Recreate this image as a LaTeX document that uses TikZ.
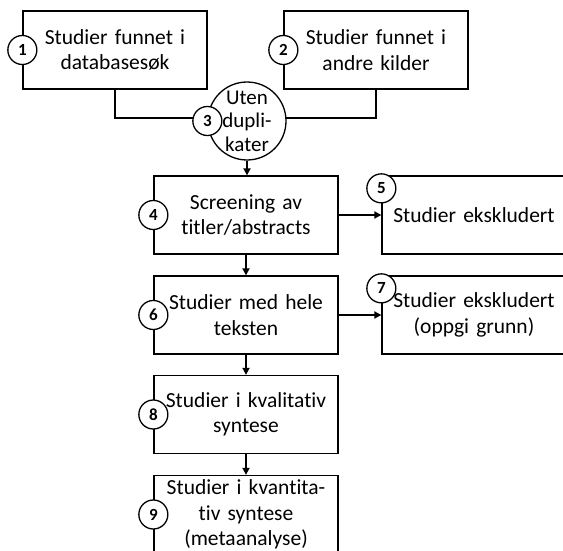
\documentclass[tikz,border=0pt]{standalone}
\usepackage{fontspec}
\setmainfont{Carlito}[Ligatures={NoCommon,NoRare,NoContextual}]
\usetikzlibrary{arrows.meta}
\begin{document}
\begin{tikzpicture}[x=1pt,y=-1pt,
  box/.style={draw=black,line width=1.3pt,fill=white,minimum width=184pt,minimum height=78pt,
    text width=180pt,align=center,inner sep=0pt,font=\fontsize{21.5}{25.5}\selectfont},
  bigcirc/.style={draw=black,line width=1.3pt,fill=white,circle,minimum size=78pt,inner sep=0pt,
    align=center,font=\fontsize{21}{23.5}\selectfont},
  num/.style={draw=black,line width=1.3pt,fill=white,circle,minimum size=29pt,inner sep=0pt,
    font=\fontsize{17}{17}\selectfont\bfseries},
  conn/.style={draw=black,line width=1.8pt},
  arr/.style={conn,-{Triangle[length=7pt,width=7pt]}}]
\clip (0,0) rectangle (563,551);
\useasboundingbox (0,0) rectangle (563,551);
\node[box] (b1) at (115,50) {Studier funnet i\\databasesøk};
\node[box] (b2) at (376,50) {Studier funnet i\\andre kilder};
\node[box] (b4) at (246,215) {Screening av\\titler/abstracts};
\node[box] (b5) at (474,215) {Studier ekskludert};
\node[box] (b6) at (246,315) {Studier med hele\\teksten};
\node[box] (b7) at (474,315) {Studier ekskludert\\(oppgi grunn)};
\node[box] (b8) at (246,414.5) {Studier i kvalitativ\\syntese};
\node[box] (b9) at (246,514.5) {Studier i kvantita-\\tiv syntese\\(metaanalyse)};
\draw[conn] (b1.south) |- (208,118) coordinate (j1);
\draw[conn] (b2.south) |- (286,118) coordinate (j2);
\node[bigcirc] (c3) at (247,121) {Uten\\dupli-\\kater};
\draw[arr] (c3.south) -- (c3.south |- b4.north);
\draw[arr] (b4.east) -- (b5.west);
\draw[arr] (b4.south) -- (b6.north);
\draw[arr] (b6.east) -- (b7.west);
\draw[arr] (b6.south) -- (b8.north);
\draw[arr] (b8.south) -- (b9.north);
\node[num] (n1) at (b1.west) {1};
\node[num] (n2) at (b2.west) {2};
\node[num] (n3) at (c3.west) {3};
\node[num] (n4) at (b4.west) {4};
\node[num] (n5) at ([yshift=-13pt]b5.north west) {5};
\node[num] (n6) at (b6.west) {6};
\node[num] (n7) at ([yshift=-13pt]b7.north west) {7};
\node[num] (n8) at (b8.west) {8};
\node[num] (n9) at (b9.west) {9};
\end{tikzpicture}
\end{document}
